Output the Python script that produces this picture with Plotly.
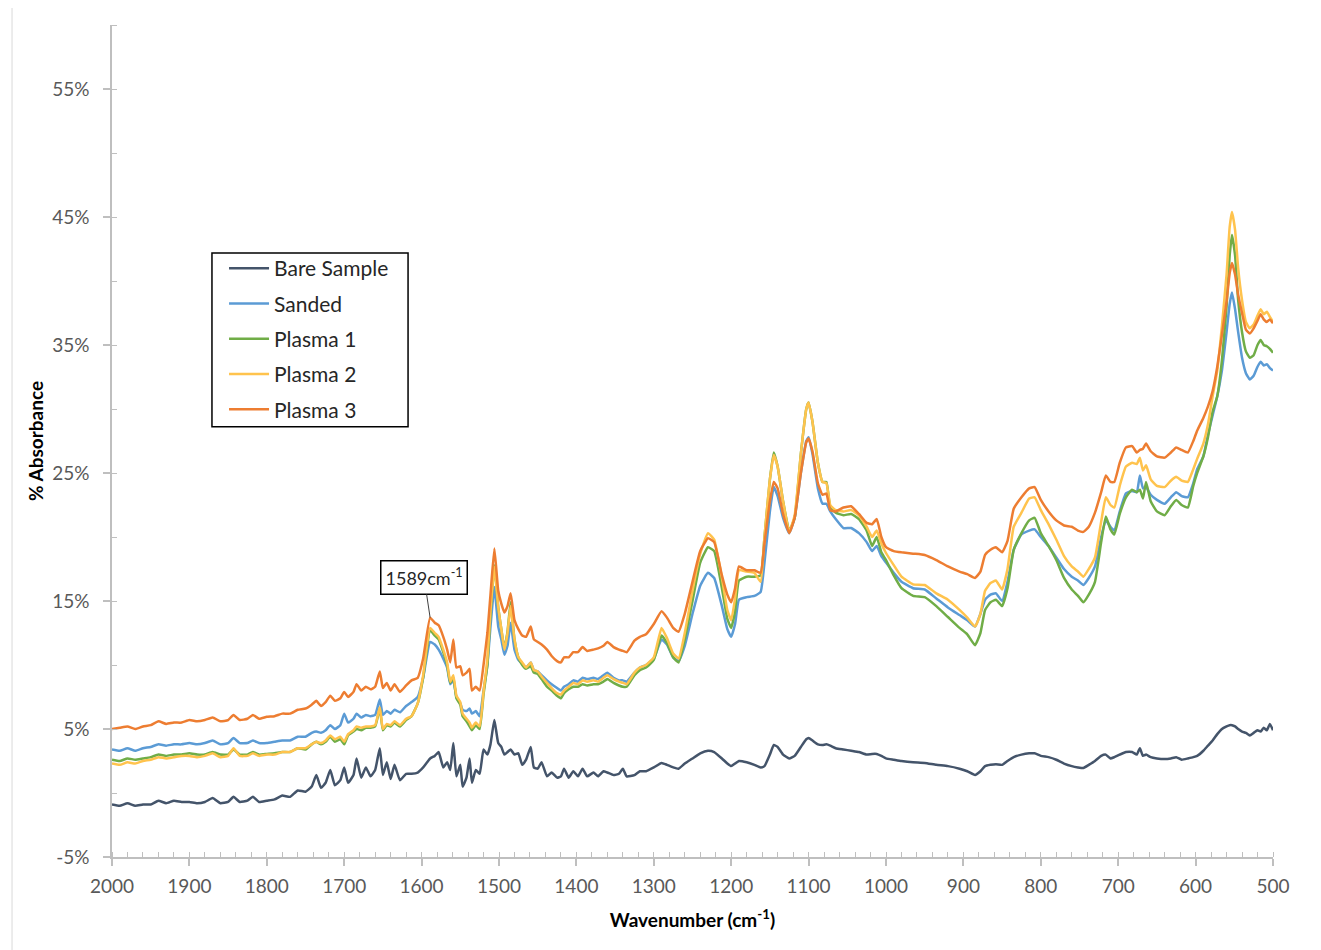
import plotly.graph_objects as go

# Wavenumber grid (cm^-1)
wavenumber = [2000, 1990, 1980, 1970, 1960, 1950, 1940, 1930, 1920, 1910, 1900, 1890, 1880, 1870, 1860, 1850,
              1843, 1835, 1825, 1818, 1810, 1800, 1790, 1780, 1770, 1760, 1750, 1742, 1736, 1730, 1724, 1718,
              1712, 1705, 1700, 1695, 1688, 1684, 1678, 1672, 1666, 1660, 1654, 1650, 1645, 1640, 1635, 1628,
              1620, 1613, 1605, 1598, 1589, 1583, 1578, 1572, 1567, 1563, 1559, 1555, 1550, 1547, 1542, 1538,
              1535, 1530, 1525, 1520, 1515, 1511, 1506, 1501, 1497, 1493, 1489, 1485, 1480, 1475, 1470, 1465,
              1459, 1455, 1450, 1445, 1438, 1432, 1425, 1420, 1416, 1410, 1404, 1398, 1392, 1386, 1378, 1372,
              1365, 1360, 1352, 1345, 1340, 1335, 1325, 1318, 1310, 1300, 1290, 1283, 1275, 1268, 1260, 1250,
              1240, 1230, 1222, 1212, 1205, 1200, 1195, 1190, 1180, 1170, 1162, 1157, 1150, 1145, 1140, 1133,
              1125, 1118, 1110, 1103, 1100, 1095, 1088, 1082, 1077, 1072, 1065, 1055, 1045, 1035, 1025, 1018,
              1012, 1006, 1000, 990, 980, 965, 950, 935, 920, 905, 895, 885, 878, 872, 865, 858,
              850, 843, 835, 825, 815, 808, 800, 790, 780, 770, 760, 752, 745, 738, 730, 722,
              716, 710, 705, 698, 690, 682, 676, 672, 668, 664, 658, 650, 640, 632, 625, 618,
              610, 603, 598, 590, 584, 578, 572, 566, 560, 556, 553, 549, 545, 540, 535, 530,
              525, 520, 516, 512, 508, 504, 500]

bare_sample = [-0.9, -1.0, -0.8, -1.0, -0.9, -0.9, -0.6, -0.8, -0.6, -0.7, -0.7, -0.8, -0.7, -0.4, -0.8, -0.7,
               -0.3, -0.7, -0.6, -0.3, -0.7, -0.6, -0.5, -0.2, -0.3, 0.2, 0.1, 0.5, 1.4, 0.4, 0.8, 1.8,
               0.6, 1.0, 2.0, 0.8, 1.4, 2.7, 1.2, 2.0, 1.3, 1.8, 3.5, 1.4, 2.4, 1.1, 2.2, 1.0,
               1.5, 1.5, 1.6, 2.0, 2.7, 2.9, 3.2, 2.0, 2.4, 1.8, 3.9, 1.3, 2.2, 0.5, 1.2, 2.7,
               0.8, 1.8, 1.5, 3.4, 3.0, 3.8, 5.7, 3.9, 3.6, 3.0, 3.2, 3.4, 3.0, 3.1, 2.2, 2.6,
               3.6, 2.0, 1.9, 2.4, 1.3, 1.6, 1.2, 1.3, 1.9, 1.2, 1.7, 1.3, 1.9, 1.3, 1.6, 1.3,
               1.7, 1.6, 1.4, 1.5, 1.9, 1.3, 1.4, 1.7, 1.7, 2.0, 2.35, 2.2, 2.0, 1.9, 2.3, 2.7,
               3.1, 3.3, 3.2, 2.7, 2.3, 2.1, 2.3, 2.5, 2.4, 2.2, 2.0, 2.1, 3.0, 3.75, 3.6, 3.0,
               2.7, 2.9, 3.6, 4.2, 4.3, 4.1, 3.8, 3.75, 3.8, 3.7, 3.5, 3.4, 3.3, 3.2, 3.0, 3.05,
               3.05, 2.9, 2.7, 2.6, 2.5, 2.4, 2.35, 2.2, 2.1, 1.9, 1.7, 1.4, 1.7, 2.1, 2.2, 2.25,
               2.2, 2.5, 2.8, 3.0, 3.1, 3.1, 2.9, 2.8, 2.6, 2.3, 2.1, 2.0, 1.95, 2.2, 2.5, 2.9,
               3.0, 2.7, 2.8, 3.0, 3.2, 3.2, 3.0, 3.5, 2.9, 3.0, 2.8, 2.7, 2.65, 2.7, 2.8, 2.6,
               2.7, 2.8, 2.9, 3.3, 3.7, 4.1, 4.6, 5.0, 5.2, 5.3, 5.3, 5.2, 5.0, 4.8, 4.7, 4.5,
               4.7, 4.9, 4.8, 5.1, 4.9, 5.4, 4.9]

sanded = [3.4, 3.3, 3.5, 3.3, 3.5, 3.6, 3.8, 3.7, 3.8, 3.8, 3.9, 3.8, 3.9, 4.1, 3.8, 3.9,
          4.3, 3.9, 3.9, 4.1, 3.9, 3.9, 4.0, 4.1, 4.1, 4.4, 4.4, 4.7, 4.8, 4.7, 4.9, 5.3,
          5.0, 5.3, 6.2, 5.5, 5.8, 6.2, 5.9, 6.1, 6.0, 6.1, 7.3, 6.1, 6.4, 6.2, 6.5, 6.3,
          6.8, 7.1, 7.5, 9.0, 11.8, 11.6, 11.2, 10.5, 9.8, 8.5, 8.8, 7.5, 7.0, 6.5, 6.4, 6.6,
          6.2, 6.4, 6.0, 8.0, 10.0, 13.0, 16.1, 13.0, 12.0, 10.8, 11.5, 13.3, 11.2, 10.4, 10.1, 9.8,
          10.2, 9.6, 9.5, 9.2, 8.8, 8.5, 8.2, 8.0, 8.3, 8.5, 8.8, 8.7, 9.0, 8.9, 9.0, 8.9,
          9.2, 9.4, 9.0, 8.8, 8.8, 8.7, 9.4, 9.8, 10.0, 10.5, 12.0, 11.6, 10.6, 10.3, 11.5, 14.0,
          16.2, 17.2, 16.8, 14.6, 12.8, 12.2, 13.2, 15.1, 15.3, 15.4, 15.7, 18.0, 22.0, 23.9, 23.2, 21.5,
          20.3, 21.5, 25.0, 27.5, 27.8, 26.5, 23.8, 22.6, 22.6, 22.0, 21.4, 20.7, 20.7, 20.3, 19.6, 18.9,
          19.3, 18.5, 18.0, 17.2, 16.5, 16.0, 15.9, 15.2, 14.5, 13.9, 13.5, 13.0, 14.0, 15.1, 15.5, 15.6,
          15.0, 16.5, 19.0, 20.2, 20.5, 20.6, 20.0, 19.3, 18.4, 17.5, 16.9, 16.6, 16.25, 16.8, 17.7, 20.0,
          21.3, 20.8, 20.5, 22.0, 23.4, 23.6, 23.5, 24.8, 23.8, 23.9, 23.3, 22.9, 22.6, 23.1, 23.5, 23.2,
          23.1, 24.2, 25.3, 26.3, 28.0, 29.5, 31.0, 33.0, 36.0, 38.2, 39.1, 37.8, 36.0, 34.0, 32.8, 32.3,
          32.6, 33.3, 33.7, 33.4, 33.5, 33.2, 33.0]

plasma_1 = [2.6, 2.5, 2.7, 2.6, 2.7, 2.8, 3.0, 2.9, 3.0, 3.0, 3.1, 3.0, 3.0, 3.2, 3.0, 3.0,
            3.4, 3.0, 3.0, 3.2, 3.0, 3.05, 3.1, 3.2, 3.2, 3.5, 3.4, 3.8, 4.0, 3.8, 4.0, 4.4,
            4.0, 4.2, 3.8, 4.5, 4.8, 5.0, 4.9, 5.1, 5.1, 5.2, 6.6, 4.9, 5.3, 5.2, 5.5, 5.2,
            5.7, 6.0, 7.0, 9.0, 12.7, 12.3, 12.0, 11.0, 10.0, 8.6, 9.0, 7.4, 6.9, 6.0, 5.6, 5.2,
            4.9, 5.3, 5.0, 7.7, 10.0, 14.0, 17.8, 14.5, 12.8, 11.3, 12.6, 14.9, 12.0, 10.6, 10.0, 9.7,
            9.9, 9.4, 9.3, 8.9, 8.3, 8.0, 7.6, 7.4, 7.8, 8.1, 8.3, 8.3, 8.5, 8.4, 8.5, 8.5,
            8.7, 8.9, 8.6, 8.4, 8.3, 8.3, 9.2, 9.6, 9.8, 10.4, 12.3, 11.7, 10.6, 10.2, 12.0, 15.0,
            18.0, 19.2, 18.9, 16.0, 13.6, 12.9, 14.2, 16.6, 16.9, 16.9, 17.0, 20.0, 24.5, 26.6, 25.5, 22.8,
            20.5, 21.5, 26.5, 30.0, 30.5, 29.0, 25.8, 24.3, 24.3, 22.3, 21.9, 21.7, 21.8, 21.4, 20.5, 19.3,
            20.0, 18.8, 18.2, 17.0, 16.0, 15.4, 15.3, 14.6, 13.75, 12.9, 12.4, 11.55, 12.5, 14.3, 14.9, 15.1,
            14.6, 16.0, 19.0, 20.3, 21.3, 21.5, 20.3, 19.3, 18.2, 16.8, 15.9, 15.4, 14.9, 15.5, 16.5, 19.6,
            21.6, 20.6, 20.2, 21.8, 23.1, 23.7, 23.5, 23.7, 23.0, 24.3, 22.8, 22.0, 21.7, 22.4, 22.9, 22.5,
            22.3, 24.0, 25.0, 26.3, 27.8, 29.8, 31.0, 33.8, 38.0, 42.0, 43.6, 42.0, 38.5, 36.0, 34.5, 34.0,
            34.2, 35.0, 35.4, 35.0, 34.9, 34.7, 34.4]

plasma_2 = [2.3, 2.2, 2.4, 2.3, 2.5, 2.6, 2.8, 2.7, 2.8, 2.9, 2.9, 2.8, 2.9, 3.1, 2.8, 2.9,
            3.5, 2.9, 2.9, 3.1, 2.9, 3.0, 3.0, 3.2, 3.2, 3.5, 3.5, 3.8, 4.0, 3.9, 4.1, 4.5,
            4.2, 4.4, 4.0, 4.6, 4.9, 5.2, 5.1, 5.2, 5.2, 5.3, 6.7, 5.0, 5.4, 5.3, 5.6, 5.3,
            5.8, 6.0, 7.0, 9.2, 12.9, 12.5, 12.2, 11.2, 10.2, 8.7, 9.2, 7.6, 7.1, 6.2, 5.8, 5.5,
            5.1, 5.5, 5.2, 7.9, 10.5, 14.2, 17.7, 14.5, 12.8, 11.2, 12.5, 14.6, 12.0, 10.6, 10.2, 9.8,
            10.2, 9.6, 9.5, 9.1, 8.6, 8.2, 7.8, 7.7, 8.0, 8.3, 8.6, 8.5, 8.8, 8.7, 8.8, 8.7,
            9.0, 9.2, 8.9, 8.7, 8.6, 8.5, 9.4, 9.8, 10.0, 10.6, 12.9, 12.1, 10.9, 10.5, 12.5, 15.8,
            18.7, 20.3, 19.8, 16.8, 14.3, 13.5, 15.2, 17.4, 17.3, 17.2, 16.5, 20.0, 24.5, 26.4, 25.5, 22.8,
            20.4, 21.7, 26.5, 30.0, 30.5, 29.0, 25.8, 24.3, 24.2, 22.5, 22.1, 22.0, 22.1, 21.7, 20.8, 20.0,
            20.5, 19.5, 18.75, 17.8, 16.9, 16.3, 16.25, 15.6, 15.1, 14.3, 13.7, 13.0, 14.0, 15.8, 16.4, 16.6,
            15.9, 17.5, 20.8, 21.9, 23.0, 23.1, 22.1, 21.0, 19.8, 18.5, 17.7, 17.3, 16.9, 17.5, 18.4, 21.2,
            23.1, 22.5, 22.3, 24.0, 25.5, 25.8, 25.7, 26.2, 25.2, 25.6, 24.5, 24.0, 23.9, 24.4, 24.7, 24.4,
            24.3, 25.3, 26.1, 27.3, 28.8, 31.0, 33.0, 36.5, 40.5, 44.2, 45.4, 44.0, 41.0, 38.5, 36.8, 36.3,
            36.6, 37.3, 37.8, 37.4, 37.6, 37.2, 36.8]

plasma_3 = [5.0, 5.1, 5.2, 5.0, 5.2, 5.3, 5.6, 5.4, 5.5, 5.5, 5.7, 5.6, 5.7, 5.9, 5.6, 5.7,
            6.1, 5.7, 5.8, 6.1, 5.8, 5.95, 6.0, 6.2, 6.2, 6.5, 6.6, 6.9, 7.2, 6.8, 7.1, 7.6,
            7.2, 7.4, 7.9, 7.5, 7.9, 8.5, 8.0, 8.3, 8.1, 8.3, 9.5, 8.2, 8.6, 8.0, 8.5, 7.9,
            8.4, 8.8, 9.0, 10.5, 13.7, 13.3, 13.1, 12.2, 11.2, 10.2, 12.0, 9.8, 9.9, 9.2, 9.4, 9.7,
            8.0, 8.3, 8.0, 10.0, 12.5, 15.5, 19.1, 15.8, 14.8, 14.1, 14.6, 15.6, 13.5, 12.8, 12.3, 12.2,
            13.0, 12.0, 11.8, 11.6, 11.2, 10.7, 10.3, 10.2, 10.6, 10.6, 11.0, 11.0, 11.4, 11.1, 11.2, 11.3,
            11.5, 11.8, 11.4, 11.2, 11.1, 11.0, 11.9, 12.2, 12.4, 13.2, 14.2, 13.7, 12.9, 12.6, 14.0, 16.5,
            18.9, 19.9, 19.6, 17.0, 15.5, 14.9, 16.0, 17.7, 17.4, 17.4, 17.2, 19.5, 22.8, 24.3, 23.8, 21.8,
            20.3, 21.5, 25.0, 27.4, 27.7, 26.7, 24.2, 23.3, 23.4, 22.1, 22.0, 22.3, 22.4, 21.8, 21.1, 21.0,
            21.4, 20.0, 19.2, 18.9, 18.8, 18.7, 18.6, 18.2, 17.7, 17.3, 17.1, 16.8, 17.3, 18.6, 19.0, 19.2,
            18.8, 19.7, 22.2, 23.1, 23.8, 23.9, 22.9, 22.0, 21.3, 20.9, 20.8, 20.5, 20.4, 20.8, 21.9, 23.5,
            24.8, 24.3, 24.3, 25.8, 27.0, 27.1, 26.6, 26.8, 26.9, 27.3, 26.7, 26.3, 26.2, 26.6, 27.0, 26.8,
            26.6, 27.5, 28.3, 29.3, 30.2, 31.4, 33.3, 35.8, 38.4, 40.6, 41.4, 40.5, 38.9, 37.5, 36.2, 35.9,
            36.3, 36.9, 37.4, 37.0, 36.8, 37.0, 36.7]

series_names = ["Bare Sample", "Sanded", "Plasma 1", "Plasma 2", "Plasma 3"]
series_values = [bare_sample, sanded, plasma_1, plasma_2, plasma_3]
series_colors = ["#44546A", "#5B9BD5", "#70AD47", "#FFC34D", "#ED7D31"]

y_tick_values = [-5, 5, 15, 25, 35, 45, 55]
y_tick_labels = ["-5%", "5%", "15%", "25%", "35%", "45%", "55%"]
x_tick_values = [2000, 1900, 1800, 1700, 1600, 1500, 1400, 1300, 1200, 1100, 1000, 900, 800, 700, 600, 500]

peak_label_x = 1589
peak_label_y = 13.7

FONT = "Lato, Carlito, 'Open Sans', sans-serif"

fig = go.Figure()
for name, vals, col in zip(series_names, series_values, series_colors):
    fig.add_trace(go.Scatter(x=wavenumber, y=vals, name=name, mode="lines", legendgroup=name,
                             line=dict(color=col, width=2.5, shape="spline", smoothing=0.4)))

fig.update_layout(
    width=1321, height=950,
    paper_bgcolor="white", plot_bgcolor="white",
    margin=dict(l=104, r=56, t=17, b=101),
    font=dict(family=FONT, size=17, color="#595959"),
    showlegend=True,
    legend=dict(x=0.0965, y=0.732, xanchor="left", yanchor="top",
                borderwidth=0, bgcolor="rgba(0,0,0,0)",
                font=dict(family=FONT, size=21, color="#262626"),
                tracegroupgap=5, itemwidth=40),
)

fig.update_xaxes(
    range=[2000, 500], autorange=False,
    tickvals=x_tick_values, ticktext=[str(v) for v in x_tick_values],
    showgrid=False, zeroline=False,
    showline=True, linecolor="#BFBFBF", linewidth=1.5,
    ticks="outside", ticklen=7, tickcolor="#BFBFBF", tickwidth=1.5,
    minor=dict(dtick=20, tick0=2000, ticks="inside", ticklen=5, tickcolor="#BFBFBF", tickwidth=1.2, showgrid=False),
    tickfont=dict(family=FONT, size=19, color="#595959"),
    ticklabelstandoff=4,
    title=dict(text="<b>Wavenumber (cm<sup>-1</sup>)</b>", font=dict(family=FONT, size=19, color="black"), standoff=18),
)

fig.update_yaxes(
    range=[-5, 60], autorange=False,
    tickvals=y_tick_values, ticktext=y_tick_labels,
    showgrid=False, zeroline=False,
    showline=True, linecolor="#BFBFBF", linewidth=1.5,
    ticks="outside", ticklen=7, tickcolor="#BFBFBF", tickwidth=1.5,
    minor=dict(dtick=5, tick0=-5, ticks="inside", ticklen=5, tickcolor="#BFBFBF", tickwidth=1.2, showgrid=False),
    tickfont=dict(family=FONT, size=19, color="#595959"),
    ticklabelstandoff=10,
    title=dict(text="<b>% Absorbance</b>", font=dict(family=FONT, size=19, color="black"), standoff=4),
)

fig.add_annotation(
    x=peak_label_x, y=peak_label_y, xref="x", yref="y",
    text="1589cm<sup>-1</sup>", showarrow=True, arrowhead=0, arrowwidth=1, arrowcolor="#404040",
    ax=-6, ay=-40, bordercolor="black", borderwidth=1.5, borderpad=4, bgcolor="white",
    font=dict(family=FONT, size=18, color="#262626"),
)

# legend frame
fig.add_shape(type="rect", xref="paper", yref="paper",
              x0=0.0861, x1=0.2550, y0=0.517, y1=0.726,
              line=dict(color="black", width=1.5), fillcolor="white", layer="below")

# chart-area border
fig.add_shape(type="rect", xref="paper", yref="paper",
              x0=-0.0861, x1=1.0396, y0=-0.118, y1=1.024,
              line=dict(color="#D9D9D9", width=1), fillcolor="rgba(0,0,0,0)", layer="below")

fig.write_html("out.html")
